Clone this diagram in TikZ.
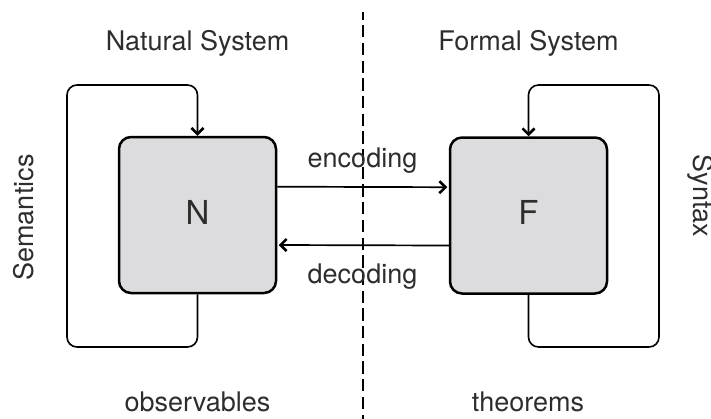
\documentclass[tikz,border=0pt]{standalone}
\usepackage{fontspec}
\setmainfont{TeX Gyre Heros}
\usetikzlibrary{arrows.meta}

\definecolor{boxfill}{RGB}{220,220,222}
\definecolor{labelgray}{RGB}{45,45,45}

\tikzset{
  sysbox/.style={draw=black, line width=2.5pt, fill=boxfill, rounded corners=12pt,
    minimum width=157pt, minimum height=156pt, inner sep=0pt,
    text=labelgray, font=\fontsize{33}{38}\selectfont,
    text height=24pt, text depth=6pt},
  lbl/.style={text=labelgray, font=\fontsize{27}{32}\selectfont, inner sep=0pt, anchor=base},
  loopline/.style={line width=1.6pt, rounded corners=10pt},
  tip/.style={-{Straight Barb[length=6pt,width=12pt,line width=2.6pt]}},
  flow/.style={line width=1.7pt, tip, shorten >=1.5pt},
  divider/.style={line width=2.3pt, dash pattern=on 12.3pt off 5.4pt, dash phase=4.6pt}
}

\begin{document}
\begin{tikzpicture}[x=1pt, y=-1pt]
  \useasboundingbox (0,0) rectangle (711,418);

  % the two systems
  \node[sysbox] (N) at (197.5,215) {N};
  \node[sysbox] (F) at (528.5,215.5) {F};

  % dividing line between the natural and the formal side
  \coordinate (divtop) at (363,12);
  \coordinate (divbot) at (363,420);
  \draw[divider] (divtop) -- (divbot);

  % feedback loops
  \coordinate (nl1) at (67,347);
  \coordinate (nl2) at (67,85);
  \draw[loopline, tip] (N.south) -- (N.south |- nl1) -- (nl1) -- (nl2) -- (N.north |- nl2) -- (N.north);

  \coordinate (fr1) at (659,347);
  \coordinate (fr2) at (659,85);
  \draw[loopline, tip] (F.south) -- (F.south |- fr1) -- (fr1) -- (fr2) -- (F.north |- fr2) -- (F.north);

  % encoding / decoding
  \draw[flow] ([yshift=28.3pt]N.east) -- ([yshift=28.3pt]F.west);
  \draw[flow] ([yshift=-30pt]F.west) -- ([yshift=-30pt]N.east);

  % labels
  \node[lbl] (tn) at (197.5,50) {Natural System};
  \node[lbl] (tf) at (528.5,50) {Formal System};
  \node[lbl] (enc) at (362.5,167) {encoding};
  \node[lbl] (dec) at (362.5,283) {decoding};
  \node[lbl] (obs) at (197.5,411) {observables};
  \node[lbl] (thm) at (528,411) {theorems};
  \node[lbl, rotate=90] (sem) at (33,217.5) {Semantics};
  \node[lbl, rotate=-90] (syn) at (693,196) {Syntax};
\end{tikzpicture}
\end{document}
